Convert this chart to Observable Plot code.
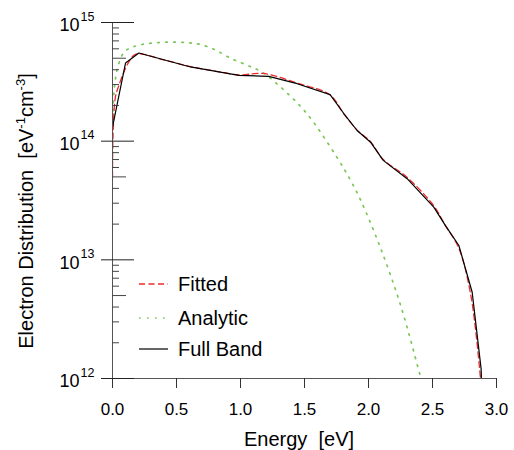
<!DOCTYPE html>
<html><head><meta charset="utf-8">
<script src="https://cdn.jsdelivr.net/npm/d3@7"></script>
<script src="https://cdn.jsdelivr.net/npm/@observablehq/plot@0.6"></script>
<style>
body{margin:0;background:#fff}
svg{font-family:"Liberation Sans",Arial,Helvetica,sans-serif}
</style>
</head><body><div id="chart"></div>
<script>
// Energy [eV] and electron distribution [eV^-1 cm^-3]
const fullBandE = [0, 0.102, 0.206, 0.609, 0.987, 1.22, 1.443, 1.70, 1.807, 1.911, 2.016, 2.115, 2.302, 2.51, 2.60, 2.706, 2.81, 2.88, 2.882];
const fullBandN = [1.31e14, 4.56e14, 5.53e14, 4.22e14, 3.59e14, 3.52e14, 3.05e14, 2.47e14, 1.71e14, 1.23e14, 9.8e13, 6.89e13, 4.83e13, 2.78e13, 1.95e13, 1.32e13, 5.33e12, 1.2e12, 1.0e12];

const fittedE = [0, 0.004, 0.023, 0.05, 0.089, 0.13, 0.167, 0.21, 0.4, 0.609, 0.8, 0.987, 1.18, 1.443, 1.70, 1.807, 1.911, 2.016, 2.115, 2.302, 2.51, 2.60, 2.706, 2.80, 2.875];
const fittedN = [5.0e13, 1.1e14, 2.36e14, 2.95e14, 3.83e14, 4.7e14, 5.3e14, 5.45e14, 4.85e14, 4.25e14, 3.9e14, 3.62e14, 3.72e14, 3.08e14, 2.45e14, 1.70e14, 1.24e14, 9.9e13, 7.0e13, 4.95e13, 2.85e13, 1.95e13, 1.25e13, 5.0e12, 1.0e12];

const analyticE = [0, 0.008, 0.02, 0.04, 0.09, 0.15, 0.23, 0.35, 0.48, 0.6, 0.69, 0.8, 0.92, 1.05, 1.17, 1.34, 1.52, 1.75, 1.86, 1.94, 2.09, 2.25, 2.39, 2.41];
const analyticN = [1.32e14, 2.24e14, 3.16e14, 4.17e14, 5.62e14, 6.17e14, 6.53e14, 6.76e14, 6.84e14, 6.73e14, 6.52e14, 5.89e14, 5.01e14, 4.37e14, 3.80e14, 2.69e14, 1.70e14, 7.41e13, 4.67e13, 3.16e13, 1.29e13, 4.17e12, 1.20e12, 1.0e12];

const xTicks = [0, 0.5, 1.0, 1.5, 2.0, 2.5, 3.0];
const majorY = [1e12, 1e13, 1e14, 1e15];
const midY = [5e12, 5e13, 5e14];
const minorY = [2, 3, 4, 6, 7, 8, 9].flatMap(m => [1e12, 1e13, 1e14].map(d => m * d));

const series = [
  {label: "Fitted", stroke: "#ee2a2a", dash: "6,3.5", width: 1.3},
  {label: "Analytic", stroke: "#7cc65a", dash: "1.6,6.4", width: 1.7},
  {label: "Full Band", stroke: "#000000", dash: null, width: 1.2}
];

const toRows = (E, N) => E.map((e, i) => ({e, n: N[i]}));

const chart = Plot.plot({
  width: 514, height: 450,
  marginLeft: 112, marginRight: 18, marginTop: 22, marginBottom: 72,
  style: {background: "white", color: "black", fontFamily: "Liberation Sans, Arial, sans-serif"},
  x: {domain: [0, 3]},
  y: {type: "log", domain: [1e12, 1e15]},
  marks: [
    Plot.line(toRows(analyticE, analyticN), {x: "e", y: "n", stroke: series[1].stroke, strokeWidth: series[1].width, strokeDasharray: series[1].dash, curve: "catmull-rom", clip: true}),
    Plot.line(toRows(fittedE, fittedN), {x: "e", y: "n", stroke: series[0].stroke, strokeWidth: series[0].width, strokeDasharray: series[0].dash, curve: "catmull-rom", clip: true}),
    Plot.line(toRows(fullBandE, fullBandN), {x: "e", y: "n", stroke: series[2].stroke, strokeWidth: series[2].width, clip: true}),
    Plot.ruleX([0], {stroke: "#555"}),
    Plot.ruleY([1e12], {stroke: "#555"}),
    Plot.axisX(xTicks, {tickSize: 10, tickPadding: 14, tickFormat: d3.format(".1f"), fontSize: 17, label: null, stroke: "#333"}),
    Plot.axisY(majorY, {tickSize: 33, dx: 22, tickFormat: () => "", label: null, stroke: "#222"}),
    Plot.axisY(midY, {tickSize: 14, dx: 14, tickFormat: () => "", label: null, stroke: "#444"}),
    Plot.axisY(minorY, {tickSize: 7, dx: 7, tickFormat: () => "", label: null, stroke: "#444"}),
    Plot.text(majorY, {frameAnchor: "left", y: d => d, text: () => "10", textAnchor: "end", dx: -33, dy: 3, fontSize: 18}),
    Plot.text(majorY, {frameAnchor: "left", y: d => d, text: d => String(Math.round(Math.log10(d))), textAnchor: "start", dx: -32, dy: -6, fontSize: 12.5})
  ]
});

document.getElementById("chart").appendChild(chart);
const svg = d3.select(chart);

// axis titles
const yt = svg.append("text")
  .attr("transform", "translate(33,211) rotate(-90)")
  .attr("text-anchor", "middle").attr("font-size", 20).attr("fill", "black")
  .style("white-space", "pre");
yt.append("tspan").text("Electron Distribution  [eV");
yt.append("tspan").attr("dy", -8).attr("font-size", 13).text("-1");
yt.append("tspan").attr("dy", 8).text("cm");
yt.append("tspan").attr("dy", -8).attr("font-size", 13).text("-3");
yt.append("tspan").attr("dy", 8).text("]");

svg.append("text").attr("x", 299).attr("y", 446)
  .attr("text-anchor", "middle").attr("font-size", 20).attr("fill", "black")
  .style("white-space", "pre").text("Energy  [eV]");

// legend
const legendY = [284, 318, 349];
const lg = svg.append("g");
series.forEach((s, i) => {
  lg.append("line").attr("x1", 139).attr("x2", 168).attr("y1", legendY[i]).attr("y2", legendY[i])
    .attr("stroke", s.stroke).attr("stroke-width", s.width)
    .attr("stroke-dasharray", s.dash);
  lg.append("text").attr("x", 178).attr("y", legendY[i]).attr("dy", "0.36em")
    .attr("text-anchor", "start")
    .attr("font-size", 20).attr("fill", "black").text(s.label);
});
</script>
</body></html>
